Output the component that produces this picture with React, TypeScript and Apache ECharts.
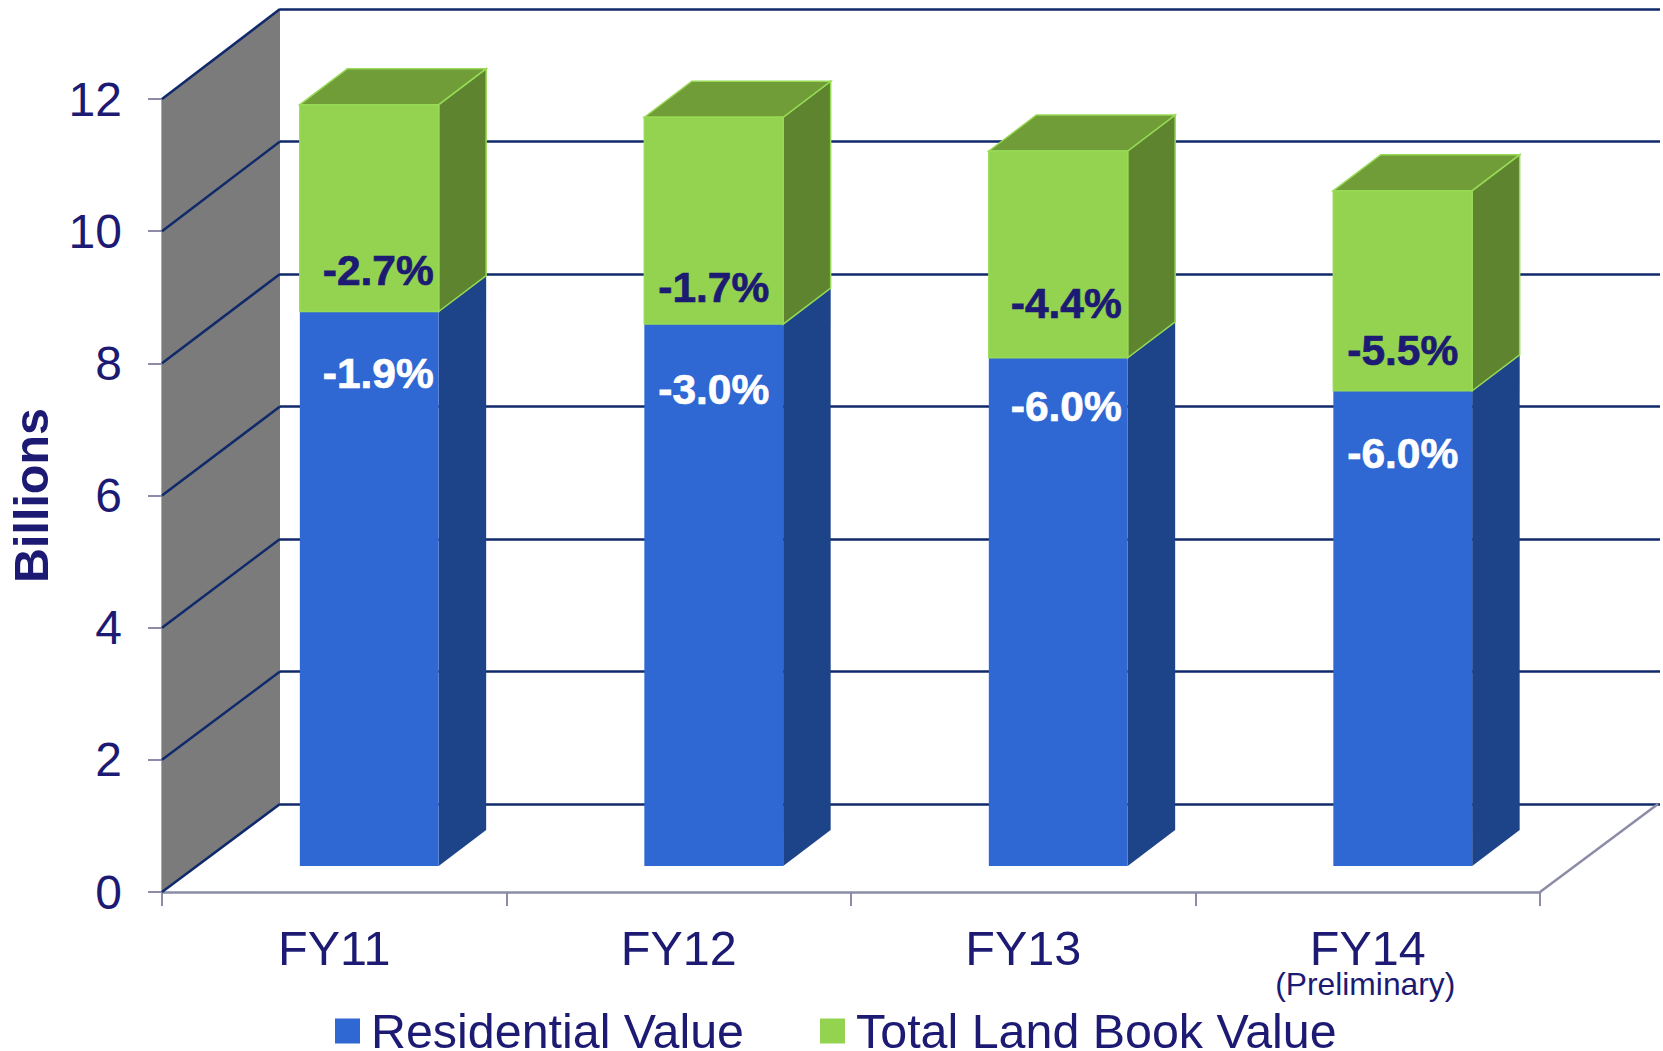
import React, { useEffect, useRef } from "react";
import * as echarts from "echarts";

const categories = ["FY11", "FY12", "FY13", "FY14"];
const residentialValue = [8.39, 8.2, 7.69, 7.19];
const landBookValue = [3.13, 3.13, 3.13, 3.03];
const residentialLabels = ["-1.9%", "-3.0%", "-6.0%", "-6.0%"];
const landLabels = ["-2.7%", "-1.7%", "-4.4%", "-5.5%"];
const residentialLabelAt = [7.45, 7.21, 6.95, 6.23];
const landLabelAt = [9.0, 8.75, 8.51, 7.79];
const labelShift = [9, 0, 8, 0];
const yTicks = [0, 2, 4, 6, 8, 10, 12];

const NAVY = "#1c1a72";
const GRID = "#10296b";
const AXIS = "#8c8ca8";
const FONT = '"Liberation Sans", Arial, sans-serif';
const BACK_DX = 118;
const BACK_TOP = 9;
const BACK_HEIGHT = 795;
const BAR_DX = 35;
const BAR_DY = 26;
const DEPTH_DX = 47.5;
const DEPTH_DY = 36;
const BAR_SHARE = 0.403;

const backY = (v: number) => BACK_TOP + BACK_HEIGHT * (1 - v / 12);

function barSeries(
  name: string,
  values: number[],
  bases: number[],
  labels: string[],
  labelAt: number[],
  colors: { front: string; side: string; top: string; stroke: string; text: string }
) {
  return {
    type: "custom",
    name,
    xAxisIndex: 0,
    yAxisIndex: 0,
    z: 5,
    itemStyle: { color: colors.front },
    encode: { x: 0, y: [1, 2] },
    data: values.map((v, i) => [i, bases[i], bases[i] + v, labelAt[i]]),
    renderItem: (_p: any, api: any) => {
      const i = api.value(0);
      const band = api.size([1, 0])[0];
      const w = band * BAR_SHARE;
      const [cx, y0] = api.coord([i, api.value(1)]);
      const [, y1] = api.coord([i, api.value(2)]);
      const [, ly] = api.coord([i, api.value(3)]);
      const l = cx + BAR_DX - w / 2;
      const r = l + w;
      const b = y0 - BAR_DY;
      const t = y1 - BAR_DY;
      const ls = { stroke: colors.stroke, lineWidth: colors.stroke === "none" ? 0 : 1.5 };
      const poly = (pts: number[][], fill: string) => ({
        type: "polygon",
        shape: { points: pts },
        style: { fill, ...ls },
      });
      return {
        type: "group",
        children: [
          poly([[r, t], [r + DEPTH_DX, t - DEPTH_DY], [r + DEPTH_DX, b - DEPTH_DY], [r, b]], colors.side),
          poly([[l, t], [l + DEPTH_DX, t - DEPTH_DY], [r + DEPTH_DX, t - DEPTH_DY], [r, t]], colors.top),
          poly([[l, t], [r, t], [r, b], [l, b]], colors.front),
          {
            type: "text",
            style: {
              text: labels[i],
              x: cx + BAR_DX + labelShift[i],
              y: ly - 26.5,
              fill: colors.text,
              stroke: colors.text,
              lineWidth: 0.7,
              font: `bold 42.5px ${FONT}`,
              textAlign: "center",
              textVerticalAlign: "middle",
            },
          },
        ],
      };
    },
  };
}

export default function App() {
  const ref = useRef<HTMLDivElement>(null);
  useEffect(() => {
    document.body.style.margin = "0";
    const chart = echarts.init(ref.current!, null, { renderer: "svg" });
    chart.setOption({
      animation: false,
      backgroundColor: "#ffffff",
      textStyle: { fontFamily: FONT },
      grid: [
        { left: 162, top: 99, width: 1378, height: 793, outerBoundsMode: "none" },
        { left: 162 + BACK_DX, top: BACK_TOP, width: 1380, height: BACK_HEIGHT, outerBoundsMode: "none" },
      ],
      xAxis: [
        {
          type: "category",
          gridIndex: 0,
          data: categories,
          boundaryGap: true,
          axisLine: { lineStyle: { color: AXIS, width: 2.5 } },
          axisTick: { show: true, length: 14, alignWithLabel: false, lineStyle: { color: AXIS, width: 2 } },
          axisLabel: {
            margin: 35,
            color: NAVY,
            fontSize: 48.5,
            fontFamily: FONT,
            lineHeight: 42,
            interval: 0,
            formatter: (v: string) => (v === "FY14" ? `${v}\n{sub|(Preliminary)}` : v),
            rich: {
              sub: { fontSize: 31.8, lineHeight: 30, color: NAVY, fontFamily: FONT, padding: [0, 5, 0, 0] },
            },
          },
        },
        {
          type: "category",
          gridIndex: 1,
          data: categories,
          axisLine: { show: false },
          axisTick: { show: false },
          axisLabel: { show: false },
        },
      ],
      yAxis: [
        {
          type: "value",
          gridIndex: 0,
          min: 0,
          max: 12,
          interval: 2,
          name: "Billions",
          nameLocation: "middle",
          nameRotate: 90,
          nameGap: 107,
          nameTextStyle: { color: NAVY, fontSize: 48.4, fontWeight: "bold", fontFamily: FONT },
          axisLine: { show: true, lineStyle: { color: AXIS, width: 2.5 } },
          axisTick: { show: true, length: 14, lineStyle: { color: AXIS, width: 2 } },
          axisLabel: { margin: 40, color: NAVY, fontSize: 48, fontFamily: FONT },
          splitLine: { show: false },
        },
        {
          type: "value",
          gridIndex: 1,
          min: 0,
          max: 12,
          interval: 2,
          axisLine: { show: false },
          axisTick: { show: false },
          axisLabel: { show: false },
          splitLine: { show: true, lineStyle: { color: GRID, width: 2.5 } },
        },
      ],
      legend: {
        left: 330,
        top: 1002,
        itemWidth: 25,
        itemHeight: 25,
        itemGap: 76,
        icon: "rect",
        data: ["Residential Value", "Total Land Book Value"],
        textStyle: { color: NAVY, fontSize: 48.4, lineHeight: 38, fontFamily: FONT, padding: [0, 0, 4, 6] },
      },
      series: [
        {
          type: "custom",
          name: "wall",
          xAxisIndex: 0,
          yAxisIndex: 0,
          z: 1,
          silent: true,
          data: yTicks.map((v) => [0, v]),
          encode: { x: 0, y: 1 },
          renderItem: (p: any, api: any) => {
            const v = api.value(1);
            const x = p.coordSys.x;
            const y = api.coord([0, v])[1];
            const children: any[] = [];
            if (v === 0) {
              const top = api.coord([0, 12])[1];
              children.push({
                type: "polygon",
                shape: {
                  points: [
                    [x, y],
                    [x + BACK_DX, backY(0)],
                    [x + BACK_DX, backY(12)],
                    [x, top],
                  ],
                },
                style: { fill: "#7b7b7b" },
              });
              const rx = x + p.coordSys.width;
              children.push({
                type: "line",
                shape: { x1: rx, y1: y, x2: rx + BACK_DX, y2: backY(0) },
                style: { stroke: AXIS, lineWidth: 2.5 },
              });
            }
            children.push({
              type: "line",
              shape: { x1: x, y1: y, x2: x + BACK_DX, y2: backY(v) },
              style: { stroke: GRID, lineWidth: 2.5 },
            });
            return { type: "group", children };
          },
        },
        barSeries("Residential Value", residentialValue, [0, 0, 0, 0], residentialLabels, residentialLabelAt, {
          front: "#3068d3",
          side: "#1d4388",
          top: "#1d4388",
          stroke: "none",
          text: "#ffffff",
        }),
        barSeries("Total Land Book Value", landBookValue, residentialValue, landLabels, landLabelAt, {
          front: "#93d350",
          side: "#5e8430",
          top: "#719d39",
          stroke: "#97da55",
          text: NAVY,
        }),
      ],
    });
    return () => chart.dispose();
  }, []);
  return <div ref={ref} style={{ position: "absolute", left: 0, top: 0, width: 1663, height: 1051 }} />;
}
